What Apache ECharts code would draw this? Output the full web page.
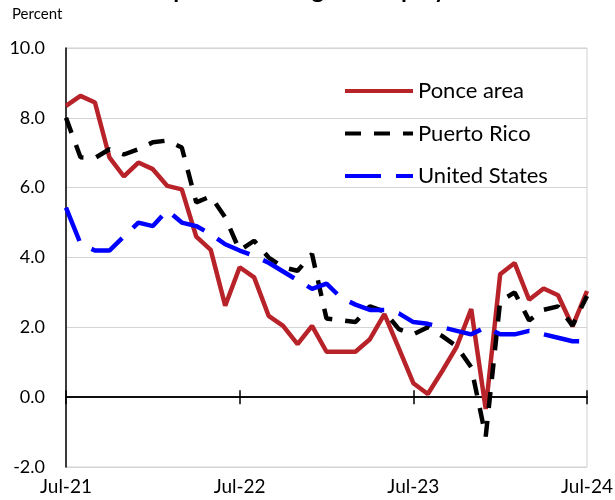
<!DOCTYPE html>
<html>
<head>
<meta charset="utf-8">
<script src="https://cdn.jsdelivr.net/npm/echarts@6/dist/echarts.min.js"></script>
<style>
html,body{margin:0;padding:0;background:#fff;}
#chart{width:615px;height:500px;}
</style>
</head>
<body>
<div id="chart"></div>
<script>
var months = ['Jul-21','Aug-21','Sep-21','Oct-21','Nov-21','Dec-21','Jan-22','Feb-22','Mar-22','Apr-22','May-22','Jun-22',
  'Jul-22','Aug-22','Sep-22','Oct-22','Nov-22','Dec-22','Jan-23','Feb-23','Mar-23','Apr-23','May-23','Jun-23',
  'Jul-23','Aug-23','Sep-23','Oct-23','Nov-23','Dec-23','Jan-24','Feb-24','Mar-24','Apr-24','May-24','Jun-24','Jul-24'];
var tickLabels = ['Jul-21','Jul-22','Jul-23','Jul-24'];
var ponce = [8.34,8.63,8.44,6.87,6.32,6.72,6.53,6.05,5.95,4.6,4.22,2.62,3.72,3.43,2.33,2.04,1.52,2.04,1.3,1.3,1.3,1.66,2.38,1.4,0.4,0.09,0.75,1.45,2.52,-0.34,3.52,3.84,2.79,3.11,2.92,2.03,3.04];
var puertoRico = [8.0,6.87,6.85,7.1,6.95,7.1,7.3,7.35,7.15,5.58,5.75,5.15,4.2,4.48,4.0,3.72,3.62,4.1,2.25,2.2,2.15,2.6,2.45,1.95,1.8,2.0,1.75,1.45,0.86,-1.13,2.75,3.0,2.2,2.5,2.6,2.05,2.9];
var unitedStates = [5.43,4.4,4.2,4.2,4.6,5.0,4.9,5.35,5.0,4.9,4.67,4.38,4.2,4.05,3.85,3.6,3.35,3.1,3.25,2.85,2.65,2.5,2.5,2.4,2.15,2.1,2.0,1.9,1.8,2.0,1.8,1.8,1.9,1.8,1.7,1.6,1.6];

var FONT = 'Lato';
var chart = echarts.init(document.getElementById('chart'), null, {renderer:'canvas'});
function tickShow(idx, val){ return tickLabels.indexOf(val) >= 0; }
var xBase = {
  type:'category', data: months, boundaryGap:false,
  axisLine:{onZero:true, onZeroAxisIndex:0, lineStyle:{color:'#000', width:1.5}},
  splitLine:{show:false}
};
chart.setOption({
  animation:false,
  title:[
    {text:'Annual percent change in employment', left:92, top:-22, padding:0,
     textStyle:{fontFamily:FONT, fontWeight:'bold', fontSize:24, lineHeight:24, color:'#000'}},
    {text:'Percent', left:12, top:7, padding:0,
     textStyle:{fontFamily:FONT, fontWeight:'normal', fontSize:15, lineHeight:15, color:'#000'}}
  ],
  grid:{left:66, right:28, top:48, bottom:33, outerBoundsMode:'none', containLabel:false,
        show:true, borderColor:'#d0d0d0', borderWidth:1, backgroundColor:'transparent'},
  legend:{
    orient:'vertical', left:343, top:80, padding:0, itemWidth:68, itemHeight:20, itemGap:20.5,
    itemStyle:{opacity:0},
    lineStyle:{width:4},
    textStyle:{fontFamily:FONT, fontSize:22, lineHeight:20, color:'#000'},
    data:['Ponce area','Puerto Rico','United States']
  },
  xAxis:[
    Object.assign({}, xBase, {
      position:'bottom',
      axisTick:{show:true, interval:tickShow, length:7, inside:false, lineStyle:{color:'#000', width:1.5}},
      axisLabel:{show:true, interval:tickShow, margin:10, fontFamily:FONT, fontSize:19, color:'#000'}
    }),
    Object.assign({}, xBase, {
      position:'top',
      axisTick:{show:true, interval:tickShow, length:7, inside:false, lineStyle:{color:'#000', width:1.5}},
      axisLabel:{show:false}
    })
  ],
  yAxis:{
    type:'value', min:-2, max:10, interval:2,
    axisLine:{show:true, onZero:false, lineStyle:{color:'#000', width:1.5}},
    axisTick:{show:false},
    axisLabel:{margin:21, fontFamily:FONT, fontSize:18, color:'#000', formatter:function(v){return v.toFixed(1);}},
    splitLine:{show:true, lineStyle:{color:'#d4d4d4', width:1}}
  },
  series:[
    {name:'Ponce area', type:'line', data:ponce, symbol:'none', showSymbol:false,
     lineStyle:{color:'#B8232A', width:4.5}, itemStyle:{color:'#B8232A'}},
    {name:'Puerto Rico', type:'line', data:puertoRico, symbol:'none', showSymbol:false,
     lineStyle:{color:'#000', width:4.5, type:[16,13]}, itemStyle:{color:'#000'}},
    {name:'United States', type:'line', data:unitedStates, symbol:'none', showSymbol:false,
     lineStyle:{color:'#0000FF', width:4.5, type:[36,15]}, itemStyle:{color:'#0000FF'}}
  ]
});
</script>
</body>
</html>
